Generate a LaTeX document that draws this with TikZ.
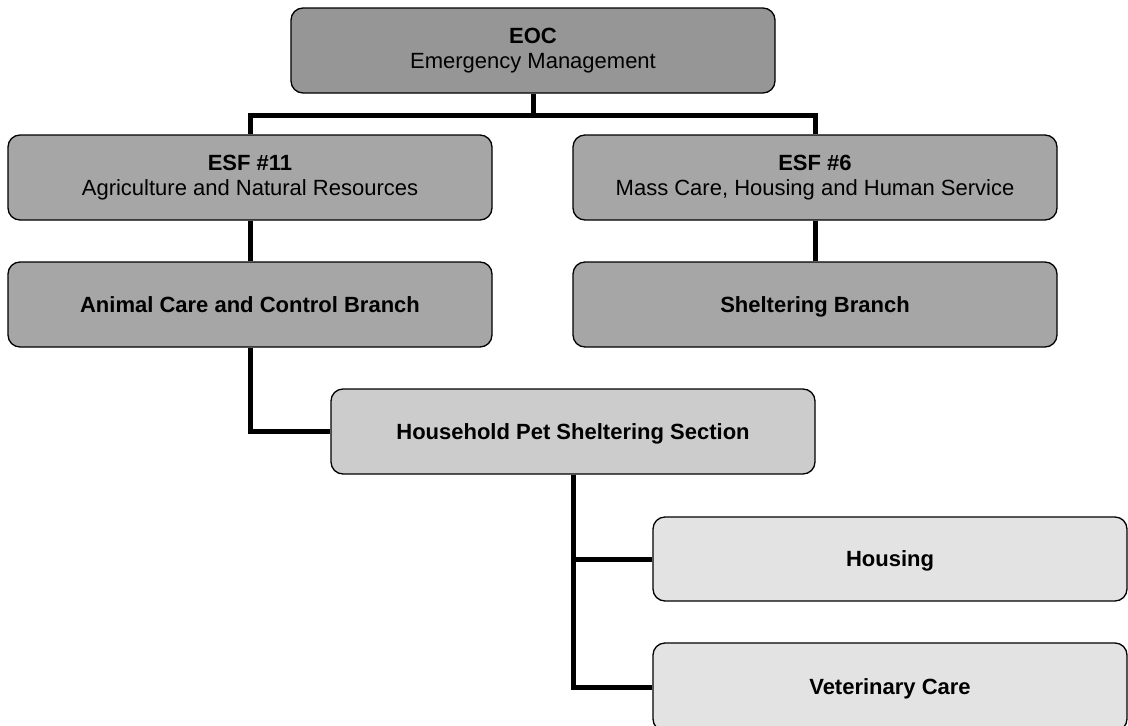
\documentclass[tikz,border=0pt]{standalone}
\usepackage{fontspec}
\setmainfont{Liberation Sans}
\usetikzlibrary{positioning,calc}

\definecolor{eocgray}{gray}{0.59}
\definecolor{esfgray}{gray}{0.65}
\definecolor{petgray}{gray}{0.80}
\definecolor{subgray}{gray}{0.89}

\begin{document}
\begin{tikzpicture}[x=1pt,y=-1pt,
  box/.style={draw, line width=1.3pt, rounded corners=12pt, minimum width=484pt, minimum height=85pt,
              inner sep=0pt, align=center, font=\fontsize{22}{25}\selectfont},
  single/.style={text depth=0pt},
  link/.style={line width=5pt}]
\useasboundingbox (0,0) rectangle (1128,726);
\node[box, fill=eocgray] (EOC)     at (533,50.5)  {\textbf{EOC}\\Emergency Management};
\node[box, fill=esfgray] (ESF11)   at (250,177.5) {\textbf{ESF \#11}\\Agriculture and Natural Resources};
\node[box, fill=esfgray] (ESF6)    at (815,177.5) {\textbf{ESF \#6}\\Mass Care, Housing and Human Service};
\node[box, single, fill=esfgray] (Animal)  at (250,304.5) {\textbf{Animal Care and Control Branch}};
\node[box, single, fill=esfgray] (Shelter) at (815,304.5) {\textbf{Sheltering Branch}};
\node[box, single, fill=petgray] (Pet)     at (573,431.5) {\textbf{Household Pet Sheltering Section}};
\node[box, single, fill=subgray, minimum width=474pt, minimum height=84pt] (Housing) at (890,559) {\textbf{Housing}};
\node[box, single, fill=subgray, minimum width=474pt, minimum height=88pt] (Vet)     at (890,687) {\textbf{Veterinary Care}};
% connectors
\draw[link] (EOC.south) -- ++(0,21.5) -| (ESF11.north);
\draw[link] (EOC.south) -- ++(0,21.5) -| (ESF6.north);
\draw[link] (ESF11) -- (Animal);
\draw[link] (ESF6) -- (Shelter);
\draw[link] (Animal.south) |- (Pet.west);
\draw[link] (Pet.south) |- (Housing.west);
\draw[link] (Pet.south) |- (Vet.west);
\end{tikzpicture}
\end{document}
